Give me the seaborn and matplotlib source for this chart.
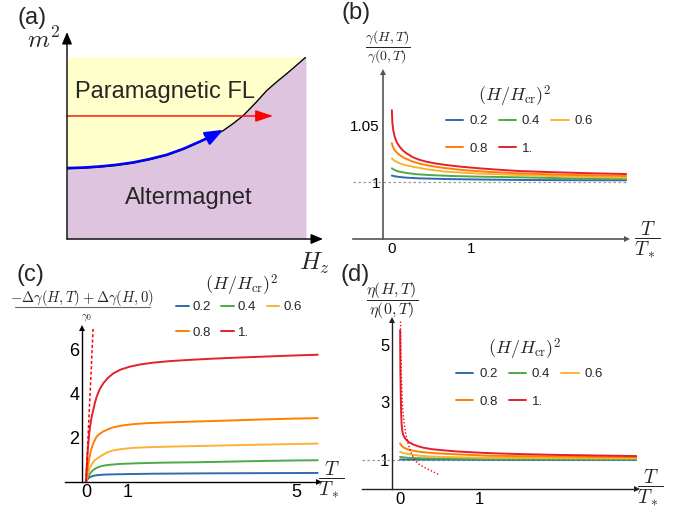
import matplotlib
matplotlib.use("Agg")
import matplotlib.pyplot as plt
import seaborn as sns

sns.set_theme(style="white")
plt.rcParams["font.family"] = ["Liberation Sans", "DejaVu Sans"]
plt.rcParams["mathtext.fontset"] = "cm"

W, H = 695, 514

# ---- panel (a): phase boundary (fraction of the box) ----
bound_x = [0.0, 0.07, 0.138, 0.207, 0.277, 0.347, 0.417, 0.487, 0.556, 0.605, 0.654,
           0.696, 0.738, 0.787, 0.836, 0.878, 0.919, 0.96, 1.0]
bound_y = [0.386, 0.389, 0.395, 0.404, 0.417, 0.436, 0.459, 0.492, 0.532, 0.562, 0.596,
           0.635, 0.679, 0.745, 0.816, 0.864, 0.908, 0.954, 1.0]
red_path_y = 0.676
red_path_end = 0.862

h2_labels = ["0.2", "0.4", "0.6", "0.8", "1."]
colors = ["#2F6BAD", "#4DAA48", "#FBB237", "#FF8000", "#E4202E"]

# ---- panel (b): gamma(H,T)/gamma(0,T) ----
b_t_02 = [0.002, 0.05, 0.1, 0.186, 0.35, 0.69, 1.1, 1.62, 2.2, 2.97]
b_v_02 = [1.0056, 1.0049, 1.0044, 1.0038, 1.0032, 1.0026, 1.0022, 1.0018, 1.0016, 1.0015]
b_t_04 = [0.002, 0.03, 0.06, 0.1, 0.2, 0.32, 0.48, 0.75, 1.1, 1.62, 2.2, 2.97]
b_v_04 = [1.012, 1.0108, 1.0098, 1.009, 1.0078, 1.0068, 1.0061, 1.0053, 1.0047, 1.0041,
          1.0033, 1.0026]
b_t_06 = [0.002, 0.02, 0.04, 0.07, 0.1, 0.17, 0.27, 0.45, 0.69, 1.1, 1.62, 2.2, 2.97]
b_v_06 = [1.0208, 1.0195, 1.0185, 1.0174, 1.0164, 1.0148, 1.0134, 1.0111, 1.009, 1.0074,
          1.0061, 1.0049, 1.0038]
b_t_08 = [0.002, 0.015, 0.038, 0.065, 0.1, 0.16, 0.27, 0.37, 0.48, 0.65, 0.9, 1.2, 1.62,
          2.2, 2.97]
b_v_08 = [1.034, 1.031, 1.028, 1.0258, 1.0237, 1.021, 1.0178, 1.0158, 1.0143, 1.0124,
          1.0105, 1.009, 1.0076, 1.0063, 1.0053]
b_t_10 = [0.002, 0.009, 0.02, 0.038, 0.065, 0.1, 0.14, 0.186, 0.27, 0.35, 0.44, 0.55, 0.69,
          0.88, 1.11, 1.35, 1.62, 2.0, 2.5, 2.97]
b_v_10 = [1.063, 1.0518, 1.0455, 1.0397, 1.0348, 1.031, 1.0278, 1.0252, 1.0217, 1.0195,
          1.0178, 1.0163, 1.0149, 1.0134, 1.012, 1.0108, 1.0096, 1.0087, 1.0077, 1.007]

# ---- panel (c): (-dgamma(H,T)+dgamma(H,0))/gamma0 ----
c_t_02 = [0, 0.03, 0.06, 0.095, 0.15, 0.22, 0.33, 0.5, 0.75, 1.05, 1.6, 2.71, 4.0, 5.52]
c_v_02 = [0, 0.08, 0.15, 0.2, 0.245, 0.275, 0.3, 0.32, 0.33, 0.34, 0.355, 0.37, 0.38, 0.39]
c_t_04 = [0, 0.04, 0.08, 0.12, 0.174, 0.25, 0.33, 0.41, 0.55, 0.81, 1.2, 1.84, 2.71, 3.5,
          4.3, 5.0, 5.52]
c_v_04 = [0, 0.18, 0.31, 0.42, 0.53, 0.62, 0.68, 0.72, 0.76, 0.8, 0.83, 0.86, 0.88, 0.91,
          0.94, 0.96, 0.97]
c_t_06 = [0, 0.03, 0.06, 0.1, 0.15, 0.21, 0.27, 0.33, 0.42, 0.52, 0.65, 0.85, 1.1, 1.44,
          2.0, 2.71, 3.4, 4.2, 5.0, 5.52]
c_v_06 = [0, 0.25, 0.45, 0.65, 0.82, 0.97, 1.06, 1.13, 1.24, 1.34, 1.42, 1.48, 1.53, 1.56,
          1.59, 1.62, 1.65, 1.68, 1.71, 1.73]
c_t_08 = [0, 0.02, 0.04, 0.065, 0.095, 0.13, 0.174, 0.254, 0.33, 0.41, 0.52, 0.65, 0.85,
          1.1, 1.44, 2.0, 2.71, 3.4, 4.2, 5.0, 5.52]
c_v_08 = [0, 0.3, 0.58, 0.9, 1.22, 1.5, 1.74, 2.05, 2.18, 2.28, 2.38, 2.47, 2.55, 2.61,
          2.66, 2.7, 2.74, 2.78, 2.83, 2.87, 2.89]
c_t_10 = [0, 0.015, 0.03, 0.05, 0.075, 0.1, 0.135, 0.174, 0.21, 0.254, 0.33, 0.413, 0.52,
          0.65, 0.82, 1.05, 1.3, 1.6, 2.0, 2.5, 3.0, 3.6, 4.3, 5.0, 5.52]
c_v_10 = [0, 0.55, 1.05, 1.6, 2.15, 2.55, 2.95, 3.26, 3.57, 3.87, 4.22, 4.48, 4.72, 4.93,
          5.1, 5.24, 5.34, 5.42, 5.49, 5.55, 5.6, 5.65, 5.7, 5.75, 5.78]
c_slope_t = [0, 0.17]
c_slope_v = [0, 7.0]

# ---- panel (d): eta(H,T)/eta(0,T) ----
d_t_02 = [0.002, 1.14, 3.0]
d_v_02 = [1.02, 1.01, 1.01]
d_t_04 = [0.002, 0.1, 0.29, 0.7, 1.14, 2.0, 3.0]
d_v_04 = [1.11, 1.08, 1.06, 1.045, 1.035, 1.032, 1.03]
d_t_06 = [0.002, 0.04, 0.127, 0.25, 0.51, 1.14, 2.0, 3.0]
d_v_06 = [1.29, 1.24, 1.2, 1.15, 1.11, 1.08, 1.07, 1.06]
d_t_08 = [0.002, 0.02, 0.05, 0.09, 0.127, 0.2, 0.295, 0.5, 0.72, 1.14, 1.8, 2.4, 3.0]
d_v_08 = [1.58, 1.5, 1.43, 1.38, 1.35, 1.31, 1.27, 1.23, 1.2, 1.15, 1.13, 1.11, 1.1]
d_t_10 = [0.002, 0.004, 0.006, 0.009, 0.012, 0.016, 0.021, 0.03, 0.042, 0.06, 0.085, 0.12,
          0.169, 0.23, 0.295, 0.4, 0.506, 0.717, 0.95, 1.14, 1.5, 2.0, 2.5, 3.0]
d_v_10 = [5.5, 4.7, 4.1, 3.5, 3.05, 2.6, 2.25, 2.02, 1.87, 1.77, 1.69, 1.61, 1.54, 1.48,
          1.43, 1.38, 1.35, 1.3, 1.265, 1.24, 1.21, 1.18, 1.16, 1.14]
d_asym_t = [0.008, 0.01, 0.012, 0.015, 0.02, 0.027, 0.035, 0.045, 0.06, 0.08, 0.1, 0.125,
            0.15, 0.18, 0.21, 0.25, 0.3, 0.35, 0.42, 0.485]
d_asym_v = [5.8, 5.3, 4.9, 4.35, 3.8, 3.25, 2.8, 2.45, 2.15, 1.82, 1.6, 1.38, 1.2, 1.05,
            0.94, 0.84, 0.76, 0.69, 0.6, 0.51]

fig = plt.figure(figsize=(W / 100, H / 100), dpi=100)


def add_ax(left, top, right, bottom):
    ax = fig.add_axes([left / W, 1 - bottom / H, (right - left) / W, (bottom - top) / H])
    ax.patch.set_alpha(0)
    return ax


def ftext(px, py, s, **kw):
    fig.text(px / W, 1 - py / H, s, **kw)


def arrow_axes(ax, yaxis_x, color, lw, ms):
    for s in ["top", "right"]:
        ax.spines[s].set_visible(False)
    ax.spines["left"].set_position(("data", yaxis_x))
    for s in ["left", "bottom"]:
        ax.spines[s].set_color(color)
        ax.spines[s].set_linewidth(lw)
    ax.plot(1, 0, ">", transform=ax.transAxes, clip_on=False, color=color, ms=ms, mew=0)
    ax.plot(yaxis_x, 1, "^", transform=ax.get_xaxis_transform(), clip_on=False,
            color=color, ms=ms, mew=0)
    ax.grid(False)


def draw_curves(ax, ts, vs):
    for t, v, c, lab in zip(ts, vs, colors, h2_labels):
        sns.lineplot(x=t, y=v, color=c, lw=1.4, ax=ax, label=lab, sort=False, estimator=None)


def add_legend(ax, title_xy, x, y, handlelength, labelspacing, columnspacing, textpad):
    ftext(title_xy[0], title_xy[1], r"$(H/H_{\mathrm{cr}})^2$", fontsize=13,
          ha="center", va="center")
    handles, labels = ax.get_legend_handles_labels()
    order = [0, 3, 1, 4, 2]
    ax.legend([handles[i] for i in order], [labels[i] for i in order], ncol=3,
              fontsize=9.5, loc="upper left", bbox_to_anchor=(x / W, 1 - y / H),
              bbox_transform=fig.transFigure, frameon=False, borderpad=0,
              borderaxespad=0, handlelength=handlelength, handletextpad=textpad,
              columnspacing=columnspacing, labelspacing=labelspacing)


# ================= (a) =================
ax_a = add_ax(67, 57, 306, 239)
ax_a.set_xlim(0, 1)
ax_a.set_ylim(0, 1)
ax_a.axis("off")
ax_a.fill_between(bound_x, bound_y, 1, color="#FFFFCC", lw=0)
ax_a.fill_between(bound_x, 0, bound_y, color="#DFC4DF", lw=0)
sns.lineplot(x=bound_x, y=bound_y, color="black", lw=1, ax=ax_a, sort=False, estimator=None)
sns.lineplot(x=bound_x[:10], y=[v + 0.004 for v in bound_y[:10]],
             color="blue", lw=1.8, ax=ax_a, sort=False, estimator=None)
ax_a.annotate("", xy=(bound_x[10], bound_y[10] + 0.004), xytext=(bound_x[9], bound_y[9] + 0.004),
              arrowprops=dict(arrowstyle="-|>,head_length=0.9,head_width=0.35",
                              color="blue", lw=1.8, shrinkA=0, shrinkB=0))
ax_a.annotate("", xy=(red_path_end, red_path_y), xytext=(0, red_path_y),
              arrowprops=dict(arrowstyle="-|>,head_length=0.9,head_width=0.3",
                              color="red", lw=1, shrinkA=0, shrinkB=0))
ax_a.annotate("", xy=(0, 1.137), xytext=(0, 0), annotation_clip=False,
              arrowprops=dict(arrowstyle="-|>,head_length=0.6,head_width=0.25",
                              color="black", lw=1, shrinkA=0, shrinkB=0))
ax_a.annotate("", xy=(1.071, 0), xytext=(0, 0), annotation_clip=False,
              arrowprops=dict(arrowstyle="-|>,head_length=0.6,head_width=0.25",
                              color="black", lw=1, shrinkA=0, shrinkB=0))
ax_a.text(0.033, 0.808, "Paramagnetic FL", va="center", ha="left", fontsize=17)
ax_a.text(0.243, 0.225, "Altermagnet", va="center", ha="left", fontsize=17)
ftext(44, 40, r"$m^2$", fontsize=18, ha="center", va="center")
ftext(314, 263, r"$H_z$", fontsize=18, ha="center", va="center")

# ================= (b) =================
ax_b = add_ax(353, 72, 627, 239)
ax_b.set_xlim(-0.49, 2.98)
ax_b.set_ylim(0.95, 1.0965)
arrow_axes(ax_b, -0.114, "#555555", 1.2, 5)
ax_b.axhline(1, color="#999999", lw=0.9, ls=(0, (2, 2)), zorder=1)
draw_curves(ax_b, [b_t_02, b_t_04, b_t_06, b_t_08, b_t_10],
            [b_v_02, b_v_04, b_v_06, b_v_08, b_v_10])
ax_b.set_xticks([0, 1])
ax_b.set_xticklabels(["0", "1"])
ax_b.set_yticks([1, 1.05])
ax_b.set_yticklabels(["1", "1.05"])
ax_b.tick_params(direction="in", length=3, width=1, colors="#555555", labelcolor="black",
                 labelsize=11, pad=2)
add_legend(ax_b, (515, 96), 446, 115, 1.3, 1.15, 0.85, 0.45)

# ================= (c) =================
ax_c = add_ax(65, 328, 319, 481.5)
ax_c.set_xlim(-0.5, 5.55)
ax_c.set_ylim(0, 7.0)
arrow_axes(ax_c, -0.095, "black", 1.0, 5)
draw_curves(ax_c, [c_t_02, c_t_04, c_t_06, c_t_08, c_t_10],
            [c_v_02, c_v_04, c_v_06, c_v_08, c_v_10])
sns.lineplot(x=c_slope_t, y=c_slope_v, color="red", lw=1.1, ls=(0, (2, 1.5)), ax=ax_c,
             sort=False, estimator=None)
ax_c.set_xticks([0, 1, 5])
ax_c.set_xticklabels(["0", "1", "5"])
ax_c.set_yticks([2, 4, 6])
ax_c.set_yticklabels(["2", "4", "6"])
ax_c.tick_params(direction="in", length=3, width=1, colors="black", labelsize=13, pad=2)
add_legend(ax_c, (242, 285), 176, 301, 0.95, 1.0, 0.8, 0.3)

# ================= (d) =================
ax_d = add_ax(362, 320, 637, 489)
ax_d.set_xlim(-0.48, 3.0)
ax_d.set_ylim(0, 5.85)
arrow_axes(ax_d, -0.1, "#222222", 1.0, 5)
ax_d.axhline(1, color="#999999", lw=0.9, ls=(0, (2, 2)), zorder=1)
draw_curves(ax_d, [d_t_02, d_t_04, d_t_06, d_t_08, d_t_10],
            [d_v_02, d_v_04, d_v_06, d_v_08, d_v_10])
sns.lineplot(x=d_asym_t, y=d_asym_v, color="red", lw=1.0, ls=(0, (1, 1.5)), ax=ax_d,
             sort=False, estimator=None)
ax_d.set_xticks([0, 1])
ax_d.set_xticklabels(["0", "1"])
ax_d.set_yticks([1, 3, 5])
ax_d.set_yticklabels(["1", "3", "5"])
ax_d.tick_params(direction="in", length=3, width=1, colors="#222222", labelcolor="black",
                 labelsize=12, pad=2)
add_legend(ax_d, (525, 349), 456, 368, 1.3, 1.15, 0.85, 0.45)

# ---- axis labels and panel tags ----
ftext(388, 47, r"$\dfrac{\gamma(H,T)}{\gamma(0,T)}$", fontsize=10, ha="center", va="center")
ftext(392, 301, r"$\dfrac{\eta(H,T)}{\eta(0,T)}$", fontsize=11.5, ha="center", va="center")
ftext(82, 298, r"$-\Delta\gamma(H,T)+\Delta\gamma(H,0)$", fontsize=10.5, ha="center",
      va="center")
fig.add_artist(plt.Line2D([15 / W, 150 / W], [1 - 307 / H, 1 - 307 / H], color="#666666",
                          lw=0.8))
ftext(87, 318, r"$\gamma_0$", fontsize=8, ha="center", va="center")
for px, py in [(647, 240), (331, 480), (650, 488)]:
    ftext(px, py, r"$\dfrac{T}{T_*}$", fontsize=14, ha="center", va="center")

ftext(32, 18, "(a)", fontsize=17, ha="center", va="center")
ftext(356, 13, "(b)", fontsize=17, ha="center", va="center")
ftext(30, 275, "(c)", fontsize=17, ha="center", va="center")
ftext(355, 275, "(d)", fontsize=17, ha="center", va="center")

fig.savefig("out.png", dpi=100)
